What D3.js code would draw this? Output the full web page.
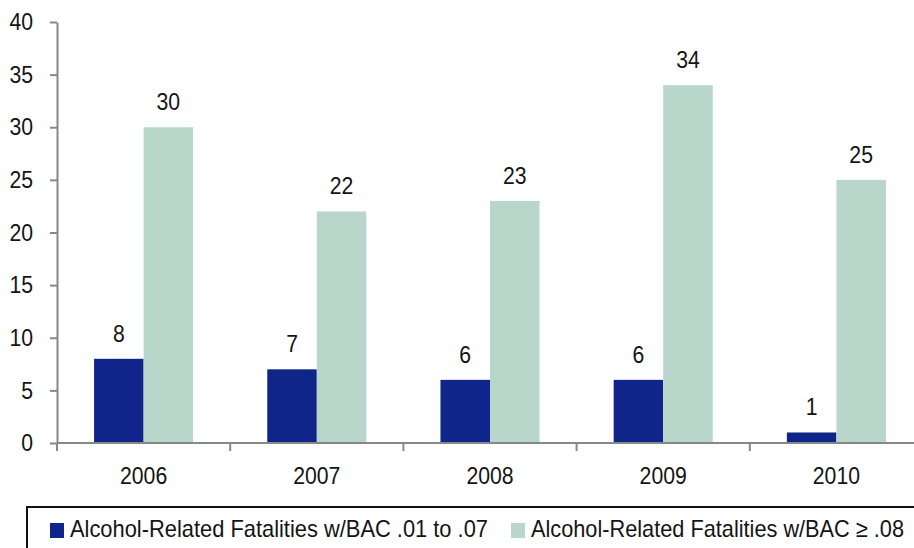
<!DOCTYPE html>
<html>
<head>
<meta charset="utf-8">
<script src="https://cdn.jsdelivr.net/npm/d3@7"></script>
<style>
  body { margin: 0; background: #fff; }
  svg text { font-family: "Liberation Sans", Arial, sans-serif; fill: #141414; }
</style>
</head>
<body>
<svg id="chart" width="914" height="548"></svg>
<script>
"use strict";

// chart data
const years = ["2006", "2007", "2008", "2009", "2010"];
const seriesNames = ["Alcohol-Related Fatalities w/BAC .01 to .07", "Alcohol-Related Fatalities w/BAC \u2265 .08"];
const lowBac = [8, 7, 6, 6, 1];
const highBac = [30, 22, 23, 34, 25];
const yTicks = [0, 5, 10, 15, 20, 25, 30, 35, 40];
const colors = ["#10258a", "#b9d6cb"];

const LEFT = 57, RIGHT = 923, TOP = 22, BOTTOM = 443;
const NUM_SIZE = 24;   // font size for numbers
const DIGIT_W = 11.8;  // narrow look: width of one digit

const svg = d3.select("#chart");

// squeeze text so it looks like the narrow font of the original
function narrow(sel) {
  sel.attr("textLength", function() { return this.textContent.length * DIGIT_W; })
    .attr("lengthAdjust", "spacingAndGlyphs");
}

const x0 = d3.scaleBand()
  .domain(years)
  .range([LEFT, RIGHT])
  .paddingInner(0.428)
  .paddingOuter(0.214);

const x1 = d3.scaleBand()
  .domain([0, 1])
  .range([0, x0.bandwidth()]);

const y = d3.scaleLinear()
  .domain([0, 40])
  .range([BOTTOM, TOP]);

const rows = years.map(function(yr, i) { return { year: yr, vals: [lowBac[i], highBac[i]] }; });

// bars
const group = svg.selectAll("g.yr")
  .data(rows)
  .enter()
  .append("g")
  .attr("class", "yr")
  .attr("transform", function(d) { return "translate(" + x0(d.year) + ",0)"; });

group.selectAll("rect")
  .data(function(d) { return d.vals; })
  .enter()
  .append("rect")
  .attr("x", function(d, i) { return x1(i); })
  .attr("y", function(d) { return y(d); })
  .attr("width", x1.bandwidth())
  .attr("height", function(d) { return y(0) - y(d); })
  .attr("fill", function(d, i) { return colors[i]; });

group.selectAll("text.val")
  .data(function(d) { return d.vals; })
  .enter()
  .append("text")
  .attr("class", "val")
  .attr("x", function(d, i) { return x1(i) + x1.bandwidth() / 2; })
  .attr("y", function(d) { return y(d) - 17; })
  .attr("text-anchor", "middle")
  .style("font-size", NUM_SIZE + "px")
  .text(function(d) { return d; })
  .call(narrow);

// y axis
const yAxis = svg.append("g")
  .attr("transform", "translate(" + LEFT + ",0)")
  .call(d3.axisLeft(y).tickValues(yTicks).tickSize(7).tickPadding(17).tickSizeOuter(0));
yAxis.attr("font-family", null).attr("font-size", null);
yAxis.select(".domain").attr("stroke", "#888").attr("stroke-width", 2);
yAxis.selectAll(".tick line").attr("stroke", "#888").attr("stroke-width", 2);
yAxis.selectAll(".tick text")
  .style("font-size", NUM_SIZE + "px")
  .attr("fill", "#141414")
  .call(narrow);

// x axis with ticks at category boundaries
const xAxis = svg.append("g")
  .attr("transform", "translate(0," + BOTTOM + ")");
xAxis.append("line")
  .attr("x1", LEFT).attr("x2", RIGHT)
  .attr("stroke", "#888").attr("stroke-width", 2);

const bounds = years.map(function(yr) { return x0(yr) - x0.step() * x0.paddingInner() / 2; });
xAxis.selectAll("line.tk")
  .data(bounds)
  .enter()
  .append("line")
  .attr("class", "tk")
  .attr("x1", function(d) { return d; })
  .attr("x2", function(d) { return d; })
  .attr("y1", 0).attr("y2", 8)
  .attr("stroke", "#888").attr("stroke-width", 2);

xAxis.selectAll("text")
  .data(years)
  .enter()
  .append("text")
  .attr("x", function(d) { return x0(d) + x0.bandwidth() / 2; })
  .attr("y", 41)
  .attr("text-anchor", "middle")
  .style("font-size", NUM_SIZE + "px")
  .text(function(d) { return d; })
  .call(narrow);

// legend
const legend = svg.append("g");
legend.append("path")
  .attr("d", "M27,560 V507 H920")
  .attr("fill", "none")
  .attr("stroke", "#111")
  .attr("stroke-width", 2);

const legendX = [50, 511];
const legendW = [418, 373];
seriesNames.forEach(function(name, i) {
  legend.append("rect")
    .attr("x", legendX[i]).attr("y", 523)
    .attr("width", 14).attr("height", 15)
    .attr("fill", colors[i]);
  legend.append("text")
    .attr("x", legendX[i] + 20).attr("y", 537)
    .attr("textLength", legendW[i])
    .attr("lengthAdjust", "spacingAndGlyphs")
    .style("font-size", "24px")
    .text(name);
});
</script>
</body>
</html>
